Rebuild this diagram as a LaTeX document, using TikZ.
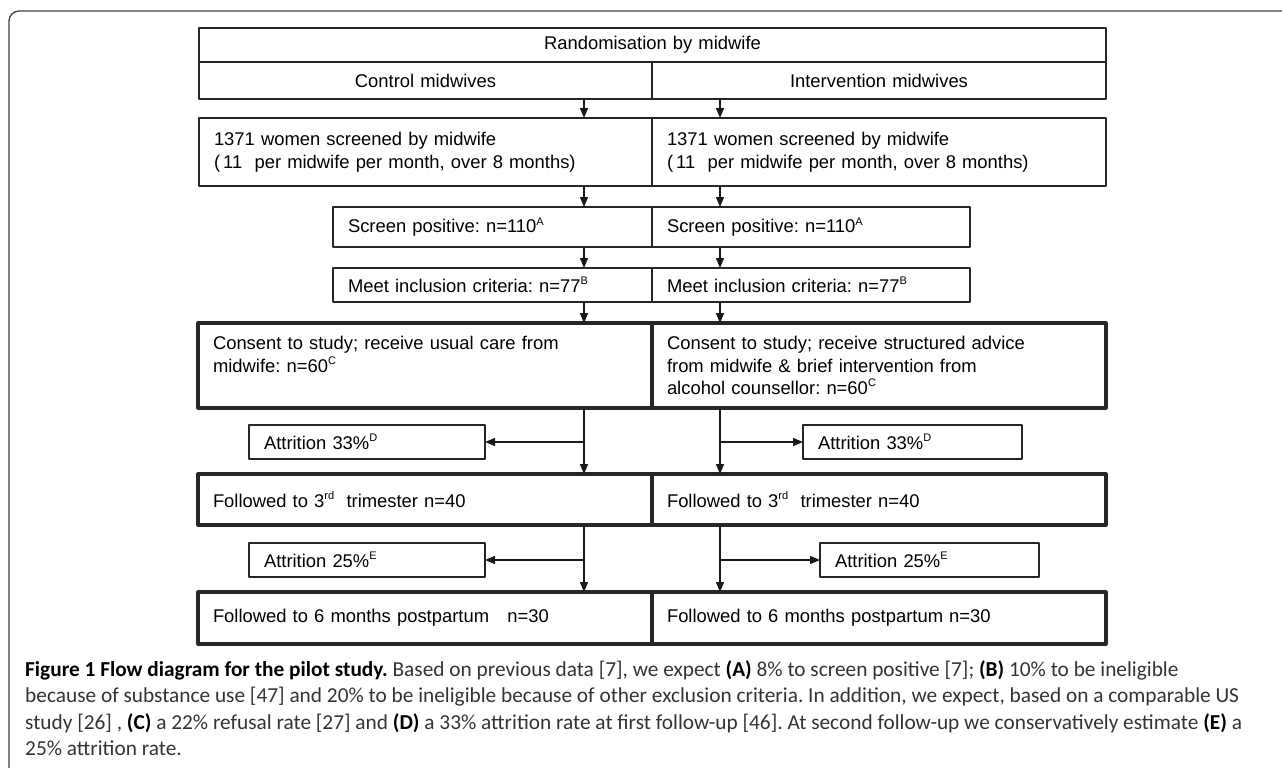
\documentclass[tikz,border=0pt]{standalone}
\usepackage{fontspec}
\setmainfont{Liberation Sans}
\newfontfamily\capfont{Carlito}
\usetikzlibrary{arrows.meta}
\newcommand\supl[1]{\raisebox{0.78ex}{\fontsize{11}{11}\selectfont #1}}
\newcommand\captwo{because of substance use [47] and 20\% to be ineligible because of other exclusion criteria. In addition, we expect, based on a comparable US}
\newlength\capw

\begin{document}
\frenchspacing
\settowidth\capw{\capfont\fontsize{20}{20}\selectfont\captwo}
\pgfmathsetmacro\capsize{1214/\capw*20}
\begin{tikzpicture}[x=1pt,y=-1pt,line cap=round,line join=round,>={Triangle[length=10pt,width=8pt]},
  box/.style={draw=black!85,line width=1.3pt,anchor=north west,inner xsep=15pt,inner ysep=0pt,outer sep=0pt,align=left,font=\fontsize{18.4}{22.5}\selectfont},
  heavy/.style={box,line width=3.2pt},
  link/.style={->,line width=1.3pt,black!90}]
\useasboundingbox (0,0) rectangle (1282,768);
\draw [line width=1.3pt,black!75,rounded corners=10pt] (9,768) -- (9,11) -- (1282,11);
% top of the flow
\node[box,align=center,minimum width=907pt,minimum height=34pt,text width=877pt] (rand) at (199,28) {Randomisation by midwife};
\node[box,align=center,minimum width=453pt,minimum height=37pt,text width=423pt] (ctrl) at (199,62) {Control midwives};
\node[box,align=center,minimum width=454pt,minimum height=37pt,text width=424pt] (intv) at (652,62) {Intervention midwives};
\node[box,minimum width=453pt,minimum height=68pt,text width=423pt] (scrL) at (199,118) {1371 women screened by midwife\\(\,11\ \ per midwife per month, over 8 months)};
\node[box,minimum width=454pt,minimum height=68pt,text width=424pt] (scrR) at (652,118) {1371 women screened by midwife\\(\,11\ \ per midwife per month, over 8 months)};
\node[box,minimum width=319pt,minimum height=40pt,text width=289pt] (posL) at (333,207) {Screen positive: n=110\supl{A}};
\node[box,minimum width=318pt,minimum height=40pt,text width=288pt] (posR) at (652,207) {Screen positive: n=110\supl{A}};
\node[box,minimum width=319pt,minimum height=34pt,text width=289pt] (incL) at (333,268) {Meet inclusion criteria: n=77\supl{B}};
\node[box,minimum width=318pt,minimum height=34pt,text width=288pt] (incR) at (652,268) {Meet inclusion criteria: n=77\supl{B}};
% consent and follow-up
\node[heavy,minimum width=454pt,minimum height=85pt,text width=424pt] (cnsL) at (198,323) {Consent to study; receive usual care from\\midwife: n=60\supl{C}\\\mbox{}};
\node[heavy,minimum width=454pt,minimum height=85pt,text width=424pt] (cnsR) at (652,323) {Consent to study; receive structured advice\\from midwife \& brief intervention from\\alcohol counsellor: n=60\supl{C}};
\node[box,minimum width=236pt,minimum height=34pt,text width=206pt] (attL1) at (249,425) {Attrition 33\%\supl{D}};
\node[box,minimum width=219pt,minimum height=34pt,text width=189pt] (attR1) at (803,425) {Attrition 33\%\supl{D}};
\node[heavy,minimum width=454pt,minimum height=51pt,text width=424pt] (fu3L) at (198,474) {Followed to 3\supl{rd}\ \ trimester n=40};
\node[heavy,minimum width=454pt,minimum height=51pt,text width=424pt] (fu3R) at (652,474) {Followed to 3\supl{rd}\ \ trimester n=40};
\node[box,minimum width=236pt,minimum height=34pt,text width=206pt] (attL2) at (249,543) {Attrition 25\%\supl{E}};
\node[box,minimum width=219pt,minimum height=34pt,text width=189pt] (attR2) at (820,543) {Attrition 25\%\supl{E}};
\node[heavy,minimum width=454pt,minimum height=52pt,text width=424pt] (fu6L) at (198,592) {Followed to 6 months postpartum\ \ \ n=30};
\node[heavy,minimum width=454pt,minimum height=52pt,text width=424pt] (fu6R) at (652,592) {Followed to 6 months postpartum n=30};
\coordinate (xl) at (584,0);
\coordinate (xr) at (720,0);
\draw[link] (ctrl.south -| xl) -- (scrL.north -| xl);
\draw[link] (intv.south -| xr) -- (scrR.north -| xr);
\draw[link] (scrL.south -| xl) -- (posL.north -| xl);
\draw[link] (scrR.south -| xr) -- (posR.north -| xr);
\draw[link] (posL.south -| xl) -- (incL.north -| xl);
\draw[link] (posR.south -| xr) -- (incR.north -| xr);
\draw[link] (incL.south -| xl) -- (cnsL.north -| xl);
\draw[link] (incR.south -| xr) -- (cnsR.north -| xr);
\draw[link] (cnsL.south -| xl) -- (fu3L.north -| xl);
\draw[link] (cnsR.south -| xr) -- (fu3R.north -| xr);
\draw[link] (attL1.east -| xl) -- (attL1.east);
\draw[link] (attR1.west -| xr) -- (attR1.west);
\draw[link] (fu3L.south -| xl) -- (fu6L.north -| xl);
\draw[link] (fu3R.south -| xr) -- (fu6R.north -| xr);
\draw[link] (attL2.east -| xl) -- (attL2.east);
\draw[link] (attR2.west -| xr) -- (attR2.west);
% caption
\node[anchor=north west,align=left,inner sep=0pt,text=black!80,font={\capfont\fontsize{\capsize}{26.5}\selectfont}] (cap) at (25,660)
{\textcolor{black}{\textbf{Figure 1 Flow diagram for the pilot study.}} Based on previous data [7], we expect \textcolor{black}{\textbf{(A)}} 8\% to screen positive [7]; \textcolor{black}{\textbf{(B)}} 10\% to be ineligible\\
\captwo\\
study [26] , \textcolor{black}{\textbf{(C)}} a 22\% refusal rate [27] and \textcolor{black}{\textbf{(D)}} a 33\% attrition rate at first follow-up [46]. At second follow-up we conservatively estimate \textcolor{black}{\textbf{(E)}} a\\
25\% attrition rate.};
\end{tikzpicture}
\end{document}
